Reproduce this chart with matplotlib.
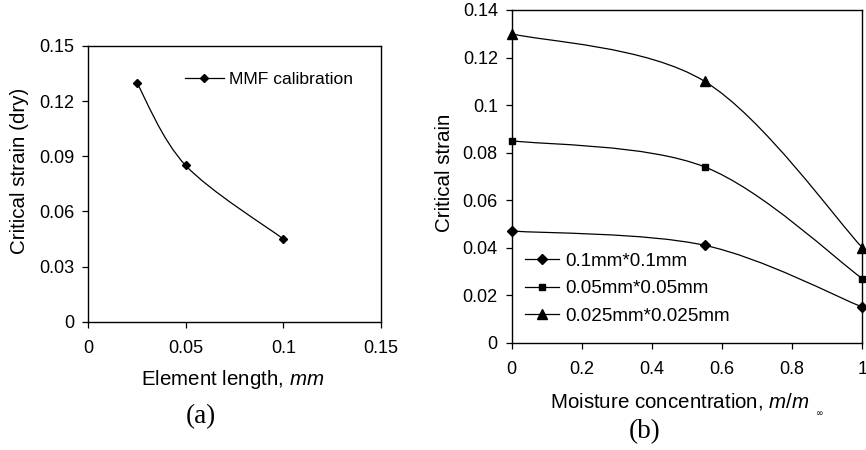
import numpy as np
import matplotlib
matplotlib.use("Agg")
import matplotlib.pyplot as plt
from matplotlib.path import Path
from matplotlib.patches import PathPatch
from matplotlib.lines import Line2D

plt.rcParams['font.family'] = ['Liberation Sans', 'DejaVu Sans']
plt.rcParams['mathtext.fontset'] = 'custom'
plt.rcParams['mathtext.rm'] = 'Liberation Sans'
plt.rcParams['mathtext.it'] = 'Liberation Sans:italic'

# Panel (a) data
elem_len = [0.025, 0.05, 0.1]
crit_dry = [0.13, 0.085, 0.045]

# Panel (b) data
moisture = [0.0, 0.55, 1.0]
s_01 = [0.047, 0.041, 0.015]
s_005 = [0.085, 0.074, 0.027]
s_0025 = [0.13, 0.11, 0.04]
labels_b = ['0.1mm*0.1mm', '0.05mm*0.05mm', '0.025mm*0.025mm']
markers_b = ['D', 's', '^']
msize_b = [4.6, 4.8, 7.2]

W, H = 866, 450
TICK_FS = 13
LABEL_FS = 14.8


def smooth_path(ax, x, y, xr, yr):
    # Excel-like smoothed line (cubic Bezier, tension 1/6) in normalized coords
    px = (np.asarray(x) - xr[0]) / (xr[1] - xr[0])
    py = (np.asarray(y) - yr[0]) / (yr[1] - yr[0])
    P = np.column_stack([px, py])
    n = len(P)
    verts = [P[0]]
    codes = [Path.MOVETO]
    for i in range(n - 1):
        p0 = P[i - 1] if i > 0 else P[i]
        p1 = P[i]
        p2 = P[i + 1]
        p3 = P[i + 2] if i + 2 < n else P[i + 1]
        c1 = p1 + (p2 - p0) / 6.0
        c2 = p2 - (p3 - p1) / 6.0
        verts += [c1, c2, p2]
        codes += [Path.CURVE4] * 3
    verts = np.array(verts)
    verts[:, 0] = verts[:, 0] * (xr[1] - xr[0]) + xr[0]
    verts[:, 1] = verts[:, 1] * (yr[1] - yr[0]) + yr[0]
    patch = PathPatch(Path(verts, codes), facecolor='none', edgecolor='black', lw=0.9)
    ax.add_patch(patch)


def style_axes(ax):
    ax.tick_params(axis='x', direction='out', length=4, width=0.9, labelsize=TICK_FS, pad=9.5)
    ax.tick_params(axis='y', direction='out', length=4.5, width=0.9, labelsize=TICK_FS, pad=5.5)
    for sp in ax.spines.values():
        sp.set_linewidth(1.0)


fig = plt.figure(figsize=(8.66, 4.5), dpi=100)

# ---- Panel (a)
a_l, a_r, a_t, a_b = 88, 381, 46, 321.7
axa = fig.add_axes([a_l / W, 1 - a_b / H, (a_r - a_l) / W, (a_b - a_t) / H])
xr_a = (0, 0.15)
yr_a = (0, 0.15)
smooth_path(axa, elem_len, crit_dry, xr_a, yr_a)
axa.plot(elem_len, crit_dry, linestyle='none', marker='D', ms=4.4, color='black')
axa.set_xlim(*xr_a)
axa.set_ylim(*yr_a)
axa.set_xticks([0, 0.05, 0.1, 0.15])
axa.set_xticklabels(['0', '0.05', '0.1', '0.15'])
axa.set_yticks([0, 0.03, 0.06, 0.09, 0.12, 0.15])
axa.set_yticklabels(['0', '0.03', '0.06', '0.09', '0.12', '0.15'])
style_axes(axa)
h_a = Line2D([], [], color='black', lw=0.9, marker='D', ms=4.4)
axa.legend([h_a], ['MMF calibration'], loc='center left', frameon=False,
           fontsize=12.6, borderpad=0, borderaxespad=0,
           bbox_to_anchor=((185 - a_l) / (a_r - a_l), (a_b - 79) / (a_b - a_t)),
           handlelength=2.2, handletextpad=0.3)
fig.text(232.5 / W, 1 - 385 / H, 'Element length, $\\mathit{mm}$', fontsize=LABEL_FS,
         ha='center', va='baseline')
fig.text(25 / W, 1 - 171 / H, 'Critical strain (dry)', fontsize=LABEL_FS,
         rotation=90, rotation_mode='anchor', ha='center', va='baseline')
fig.text(200.5 / W, 1 - 417 / H, '(a)', family=['Liberation Serif'], fontsize=19.5,
         ha='center', va='center')

# ---- Panel (b)
b_l, b_r, b_t, b_b = 511.7, 862.3, 10, 342.7
axb = fig.add_axes([b_l / W, 1 - b_b / H, (b_r - b_l) / W, (b_b - b_t) / H])
xr_b = (0, 1)
yr_b = (0, 0.14)
handles = []
for ys, mk, ms in zip([s_01, s_005, s_0025], markers_b, msize_b):
    smooth_path(axb, moisture, ys, xr_b, yr_b)
    axb.plot(moisture, ys, linestyle='none', marker=mk, ms=ms, color='black',
             clip_on=False, zorder=5)
    handles.append(Line2D([], [], color='black', lw=0.9, marker=mk,
                          ms=ms * (1.15 if mk == 'D' else 1.0)))
axb.set_xlim(*xr_b)
axb.set_ylim(*yr_b)
axb.set_xticks([0, 0.2, 0.4, 0.6, 0.8, 1])
axb.set_xticklabels(['0', '0.2', '0.4', '0.6', '0.8', '1'])
axb.set_yticks([0, 0.02, 0.04, 0.06, 0.08, 0.1, 0.12, 0.14])
axb.set_yticklabels(['0', '0.02', '0.04', '0.06', '0.08', '0.1', '0.12', '0.14'])
style_axes(axb)
axb.legend(handles, labels_b, loc='center left', frameon=False, fontsize=13.6,
           borderpad=0, borderaxespad=0,
           bbox_to_anchor=((525 - b_l) / (b_r - b_l), (b_b - 288.7) / (b_b - b_t)),
           handlelength=1.8, handletextpad=0.35, labelspacing=0.54)
fig.text(550 / W, 1 - 407 / H, 'Moisture concentration, $\\mathit{m/m}$',
         fontsize=LABEL_FS, ha='left', va='baseline')
fig.text(820 / W, 1 - 416 / H, '\u221e', fontsize=6.5, ha='center', va='baseline',
         family=['DejaVu Sans'])
fig.text(450 / W, 1 - 173 / H, 'Critical strain', fontsize=LABEL_FS,
         rotation=90, rotation_mode='anchor', ha='center', va='baseline')
fig.text(644.5 / W, 1 - 432 / H, '(b)', family=['Liberation Serif'], fontsize=19.5,
         ha='center', va='center')

fig.savefig('out.png', dpi=100)
